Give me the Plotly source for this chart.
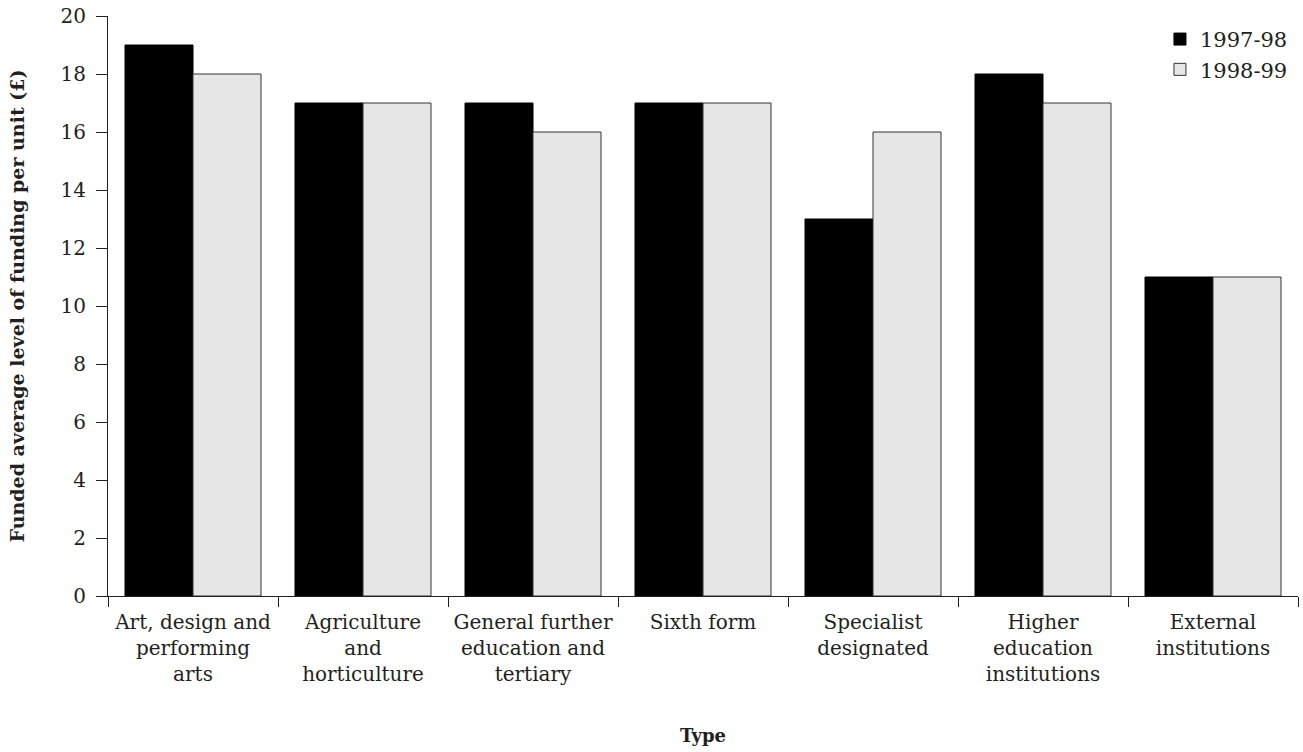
import plotly.graph_objects as go

categories = [
    "Art, design and<br>performing<br>arts",
    "Agriculture<br>and<br>horticulture",
    "General further<br>education and<br>tertiary",
    "Sixth form",
    "Specialist<br>designated",
    "Higher<br>education<br>institutions",
    "External<br>institutions",
]
series_1997_98 = [19, 17, 17, 17, 13, 18, 11]
series_1998_99 = [18, 17, 16, 17, 16, 17, 11]
y_ticks = [0, 2, 4, 6, 8, 10, 12, 14, 16, 18, 20]

FONT = "DejaVu Serif"
TXT = "#231f20"

fig = go.Figure()
fig.add_trace(go.Bar(
    x=categories, y=series_1997_98, name="1997-98",
    marker=dict(color="#000000", line=dict(color="#000000", width=1)),
))
fig.add_trace(go.Bar(
    x=categories, y=series_1998_99, name="1998-99",
    marker=dict(color="#e6e6e6", line=dict(color="#333333", width=1)),
))

fig.update_layout(
    width=1303, height=752,
    margin=dict(l=108, r=5, t=16, b=156, autoexpand=False),
    paper_bgcolor="white", plot_bgcolor="white",
    barmode="group", bargap=0.2, bargroupgap=0,
    font=dict(family=FONT, size=20, color=TXT),
    legend=dict(x=0.884, y=0.995, xanchor="left", yanchor="top",
                font=dict(family=FONT, size=21, color=TXT),
                bgcolor="rgba(0,0,0,0)", tracegroupgap=0),
    xaxis=dict(
        showline=True, linecolor="#231f20", linewidth=1,
        ticks="outside", tickson="boundaries", ticklen=10, tickcolor="#231f20",
        showgrid=False, zeroline=False, ticklabelstandoff=8,
        tickfont=dict(family=FONT, size=20, color=TXT),
        title=dict(text="<b>Type</b>", font=dict(family=FONT, size=18, color=TXT), standoff=44),
        automargin=False,
    ),
    yaxis=dict(
        range=[0, 20], tickvals=y_ticks,
        showline=True, linecolor="#231f20", linewidth=1,
        ticks="outside", ticklen=11, tickcolor="#231f20",
        showgrid=False, zeroline=False, ticklabelstandoff=6,
        ticklabeloverflow="allow",
        tickfont=dict(family=FONT, size=20, color=TXT),
        title=dict(text="<b>Funded average level of funding per unit (£)</b>",
                   font=dict(family=FONT, size=19, color=TXT), standoff=30),
        automargin=False,
    ),
)

fig.write_html(
    "out.html",
    config={"displayModeBar": False},
    post_script="document.body.style.margin='0';document.body.style.overflow='hidden';",
)
